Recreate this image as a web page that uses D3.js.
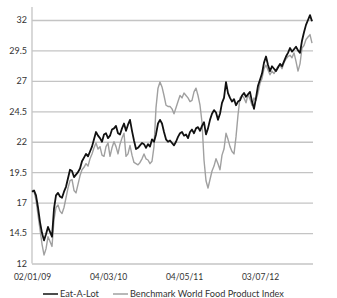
<!DOCTYPE html>
<html>
<head>
<meta charset="utf-8">
<script src="https://cdn.jsdelivr.net/npm/d3@7"></script>
<style>
  html, body { margin: 0; padding: 0; background: #fff; }
  svg { display: block; font-family: Lato, "Open Sans", sans-serif; }
</style>
</head>
<body>
<svg id="chart" width="337" height="298"></svg>
<script>
// Series sampled at evenly spaced points along the category axis
const eatALot = [
  17.9,18.0,17.6,16.6,15.4,14.5,13.9,14.4,15.0,14.6,
  14.2,16.5,17.6,17.8,17.5,17.4,17.9,18.3,19.0,19.7,
  19.6,19.1,19.3,19.5,19.8,20.4,20.7,21.0,20.8,21.2,
  21.6,22.2,22.8,22.5,22.3,22.0,22.6,22.7,22.3,22.5,
  23.0,23.1,23.3,22.7,22.6,23.1,23.5,22.9,23.4,23.8,
  22.9,22.1,21.4,21.5,21.7,21.9,21.8,21.5,21.8,21.6,
  22.2,22.0,22.6,23.5,23.8,23.5,22.8,22.2,22.0,22.1,
  21.9,21.7,22.0,22.4,22.7,22.8,22.5,22.6,22.3,22.8,
  23.0,22.7,23.1,23.2,22.9,23.3,23.6,22.6,23.1,23.8,
  24.3,24.6,24.4,23.8,24.3,25.2,25.6,26.9,26.0,25.6,
  25.3,25.5,25.0,25.3,25.4,25.8,26.0,25.7,25.9,26.1,
  25.3,24.7,25.6,26.6,27.1,27.6,28.5,29.0,28.3,27.8,
  28.2,28.0,27.8,28.1,28.4,28.2,28.6,29.0,29.3,29.7,
  29.4,29.6,29.8,29.5,29.3,30.3,31.0,31.6,32.0,32.4,
  31.9
];
const benchmark = [
  18.0,17.9,17.2,16.0,14.8,13.6,12.7,13.2,14.2,13.8,
  13.4,15.6,16.6,16.8,16.3,16.1,16.6,17.4,18.2,18.8,
  18.9,18.0,17.8,18.5,19.2,19.7,19.9,20.2,20.0,20.6,
  21.0,21.5,21.9,21.4,21.6,20.9,20.8,21.6,21.9,20.8,
  21.5,22.0,21.6,21.0,21.8,22.3,22.7,20.8,21.0,21.7,
  20.9,20.3,20.2,20.1,20.3,20.6,21.0,20.6,20.5,20.2,
  20.4,21.6,24.8,26.4,26.9,26.5,25.8,25.0,24.9,24.9,
  24.7,24.3,24.8,25.3,25.8,25.6,26.0,25.8,25.6,25.3,
  25.4,26.1,26.4,25.8,25.0,23.6,20.5,18.8,18.2,18.9,
  19.6,20.0,20.6,20.2,19.7,20.9,21.4,22.7,22.2,21.6,
  21.2,21.0,22.4,24.2,25.6,25.8,25.6,25.2,25.9,25.5,
  25.0,25.6,25.4,26.0,26.8,27.2,28.0,28.3,27.9,27.5,
  27.8,27.6,27.9,28.2,28.3,28.0,28.5,28.8,29.0,29.1,
  28.9,29.3,28.6,27.8,28.4,29.7,29.9,30.4,30.6,30.8,
  30.1
];
const xTickLabels = ["02/01/09", "04/03/10", "04/05/11", "03/07/12"];
const xTickIndex = [0, 38, 76, 114];
const yTicks = [12, 14.5, 17, 19.5, 22, 24.5, 27, 29.5, 32];
const seriesNames = ["Eat-A-Lot", "Benchmark World Food Product Index"];
const seriesColors = ["#111111", "#a0a0a0"];

const svg = d3.select("#chart");
const plotLeft = 32, plotRight = 313, plotTop = 20, plotBottom = 263.5;

const x = d3.scaleLinear().domain([0, eatALot.length - 1]).range([plotLeft, plotLeft + 2 * (eatALot.length - 1)]);
const y = d3.scaleLinear().domain([12, 32]).range([plotBottom, plotTop]);

// gridlines
const grid = svg.append("g").attr("transform", `translate(${plotLeft},0)`)
  .call(d3.axisLeft(y).tickValues(yTicks).tickSize(-(plotRight - plotLeft)).tickFormat(d3.format("")));
grid.select(".domain").remove();
grid.selectAll(".tick line").attr("stroke", "#c4c4c4").attr("stroke-width", 1.3);
grid.selectAll(".tick text").attr("x", -5).attr("fill", "#333").attr("font-size", 9).attr("font-family", "Lato, sans-serif");

// y axis line
svg.append("line").attr("x1", plotLeft).attr("x2", plotLeft).attr("y1", 7).attr("y2", plotBottom)
  .attr("stroke", "#c4c4c4").attr("stroke-width", 1.3);

// x axis labels
const xAxis = svg.append("g").attr("transform", `translate(0,${plotBottom})`)
  .call(d3.axisBottom(x).tickValues(xTickIndex).tickSize(0).tickFormat((d, i) => xTickLabels[i]));
xAxis.select(".domain").remove();
xAxis.selectAll(".tick text").attr("dy", null).attr("y", 16.5).attr("fill", "#333").attr("font-size", 8.5).attr("font-family", "Lato, sans-serif");

const line = d3.line().x((d, i) => x(i)).y(d => y(d));

svg.append("path").datum(benchmark).attr("d", line)
  .attr("fill", "none").attr("stroke", seriesColors[1]).attr("stroke-width", 1.4).attr("stroke-linejoin", "round");
svg.append("path").datum(eatALot).attr("d", line)
  .attr("fill", "none").attr("stroke", seriesColors[0]).attr("stroke-width", 1.8).attr("stroke-linejoin", "round");

// legend
const legend = svg.append("g").attr("transform", "translate(0,294)");
const legendItems = [{x: 43, w: 15}, {x: 113, w: 15}];
seriesNames.forEach((name, i) => {
  const it = legendItems[i];
  legend.append("line").attr("x1", it.x).attr("x2", it.x + it.w).attr("y1", 0).attr("y2", 0)
    .attr("stroke", seriesColors[i]).attr("stroke-width", 1.5);
  legend.append("text").attr("x", it.x + it.w + 2).attr("y", 0).attr("dy", "0.35em")
    .attr("font-size", 9.2).attr("fill", "#333").attr("font-family", "Lato, sans-serif").text(name);
});
</script>
</body>
</html>
